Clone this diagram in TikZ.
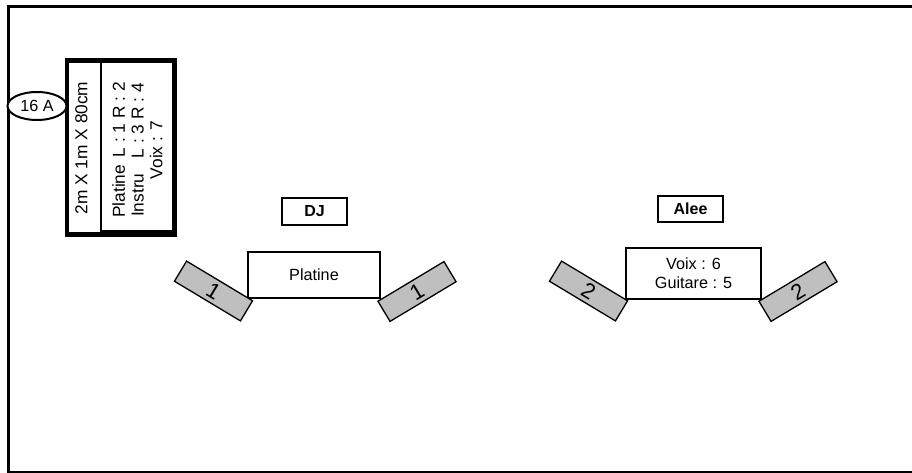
\documentclass[tikz,border=0pt]{standalone}
\usepackage{fontspec}
\setmainfont{Liberation Sans}
\usetikzlibrary{shapes.geometric}
\tikzset{
  x=1pt,y=-1pt,
  label text/.style={font=\fontsize{16.2}{18.6}\selectfont,align=center,inner sep=0pt},
  rack text/.style={font=\fontsize{17.3}{18.8}\selectfont,align=center,inner sep=0pt,rotate=90},
  head text/.style={font=\fontsize{16}{18}\selectfont\bfseries},
  plainbox/.style={draw=black,line width=1.7pt,fill=white,minimum width=#1,inner sep=0pt},
  spk/.style={draw=black,line width=1.3pt,fill=black!25,minimum width=77pt,minimum height=23.5pt,inner sep=0pt,font=\fontsize{22}{24}\selectfont},
}
\begin{document}
\begin{tikzpicture}
\useasboundingbox (0,0) rectangle (912,473);
\fill[white] (0,0) rectangle (912,473);
\coordinate (tl) at (8.5,6.5);
\coordinate (bl) at (8.5,472);
\coordinate (tr) at (912,6.5);
\coordinate (br) at (912,472);
\draw[line width=2.8pt] (tr) -- (tl) -- (bl) -- (br);
% rack
\node[draw=black,line width=4.8pt,fill=white,minimum width=107.5pt,minimum height=174pt,inner sep=0pt] (rack) at (120.7,147.5) {};
\draw[line width=1.2pt] (101,60) -- (101,231) -- (174,231);
\node[rack text] (dim) at (81.5,148) {2m X 1m X 80cm};
\node[rack text] (chan) at (137.5,150) {Platine \,L : 1 R : 2\\Instru \,\, L : 3 R : 4\\Voix : 7};
\node[draw=black,line width=2pt,fill=white,ellipse,minimum width=59pt,minimum height=28pt,inner sep=0pt,label text] (amp) at (37,106) {16 A};
% DJ
\node[plainbox=65pt,minimum height=27pt,head text] (dj) at (314.5,211.5) {DJ};
\node[plainbox=132pt,minimum height=46pt,label text] (plat) at (314,275) {Platine};
\node[spk,rotate=-31] (s1) at (213.5,291) {1};
\node[spk,rotate=31] (s2) at (417,291.5) {1};
% Alee
\node[plainbox=65pt,minimum height=26pt,head text] (alee) at (690.5,209) {Alee};
\node[plainbox=135pt,minimum height=51pt,label text] (voix) at (693.5,273.5) {Voix : 6\\Guitare : 5};
\node[spk,rotate=-31] (s3) at (588.5,291) {2};
\node[spk,rotate=31] (s4) at (798,291.5) {2};
\end{tikzpicture}
\end{document}
